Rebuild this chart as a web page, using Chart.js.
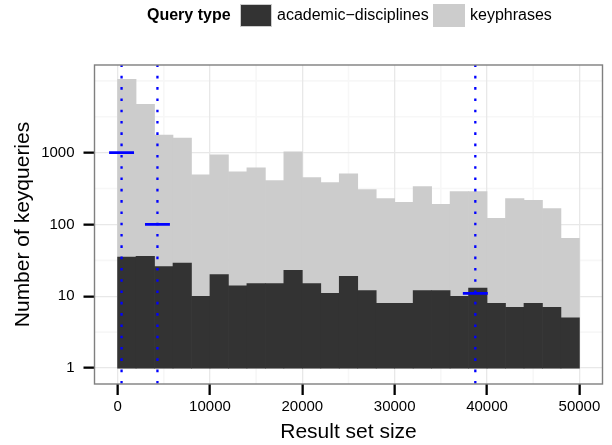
<!DOCTYPE html>
<html lang="en">
<head>
<meta charset="UTF-8">
<title>Number of keyqueries</title>
<style>
  body { margin: 0; background: #fff; }
  #wrap { position: relative; width: 612px; height: 445px; font-family: "Liberation Sans", Arial, sans-serif; color: #000; }
  #grafico { position: absolute; left: 0; top: 0; }
  .leg { position: absolute; top: 5px; font-size: 16px; line-height: 20px; white-space: nowrap; }
  .caixa { position: absolute; top: 4px; width: 32px; height: 23px; border: 1px solid #cccccc; box-sizing: border-box; }
</style>
</head>
<body>
<div id="wrap">
  <canvas id="grafico" width="612" height="445"></canvas>
  <span class="leg" style="left:147px; font-weight:bold;">Query type</span>
  <div class="caixa" style="left:240px; background:#333333;"></div>
  <span class="leg" style="left:277px;">academic−disciplines</span>
  <div class="caixa" style="left:433px; background:#cccccc;"></div>
  <span class="leg" style="left:470px;">keyphrases</span>
</div>

<script src="https://cdn.jsdelivr.net/npm/chart.js"></script>
<script>
// centros dos bins (largura 2000)
const binCenters = [1000, 3000, 5000, 7000, 9000, 11000, 13000, 15000, 17000, 19000, 21000, 23000, 25000,
                     27000, 29000, 31000, 33000, 35000, 37000, 39000, 41000, 43000, 45000, 47000, 49000];
// altura das barras escuras (academic-disciplines)
const academic = [35, 36, 26, 29, 10, 20, 14, 15, 15, 23, 15, 11, 19, 12, 8, 8, 12, 12, 10, 13, 8, 7, 8, 7, 5];
// topo visivel das barras claras (keyphrases, empilhado em escala log)
const keyphrasesTop = [10470, 4720, 1760, 1600, 493, 933, 543, 617, 408, 1026, 449, 383, 509,
                       306, 230, 203, 337, 190, 288, 288, 122, 230, 216, 167, 64];
// linhas azuis pontilhadas e marcas horizontais
const vlineX = [430, 4315, 38730];
const markY = [1000, 100, 11];
const markHalf = 1350;

const xBreaks = [0, 10000, 20000, 30000, 40000, 50000];
const xMinor = [5000, 15000, 25000, 35000, 45000];
const yBreaks = [1, 10, 100, 1000];
const yMinor = [Math.sqrt(10), Math.sqrt(1000), Math.sqrt(100000), Math.sqrt(10000000), 10000];

const topLog = Math.log10(Math.max(...keyphrasesTop));
const yMin = Math.pow(10, -0.05 * topLog);
const yMax = Math.pow(10, 1.05 * topLog);

const fonte = "'Liberation Sans', Arial, sans-serif";

let datasets = [
    {
        label: 'academic-disciplines',
        data: binCenters.map((c, i) => ({x: c, y: [1, academic[i]]})),
        backgroundColor: '#333333',
        grouped: false,
        barPercentage: 1,
        categoryPercentage: 1,
        order: 1
    },
    {
        label: 'keyphrases',
        data: binCenters.map((c, i) => ({x: c, y: [1, keyphrasesTop[i]]})),
        backgroundColor: '#cccccc',
        grouped: false,
        barPercentage: 1,
        categoryPercentage: 1,
        order: 2
    }
];

for (let i = 0; i < vlineX.length; i++) {
    datasets.push({
        type: 'line',
        label: 'marca' + i,
        data: [{x: vlineX[i] - markHalf, y: markY[i]}, {x: vlineX[i] + markHalf, y: markY[i]}],
        borderColor: '#0000ff',
        borderWidth: 2.7,
        pointRadius: 0,
        order: 0
    });
}

// grade menor + fundo
const gradeMenor = {
    id: 'gradeMenor',
    beforeDraw(chart) {
        const {ctx, chartArea: a, scales: {x, y}} = chart;
        ctx.save();
        ctx.fillStyle = '#fff';
        ctx.fillRect(0, 0, chart.width, chart.height);
        ctx.strokeStyle = '#f7f7f7';
        ctx.lineWidth = 1.6;
        ctx.beginPath();
        xMinor.forEach(v => {
            const px = x.getPixelForValue(v);
            ctx.moveTo(px, a.top); ctx.lineTo(px, a.bottom);
        });
        yMinor.forEach(v => {
            const py = y.getPixelForValue(v);
            ctx.moveTo(a.left, py); ctx.lineTo(a.right, py);
        });
        ctx.stroke();
        ctx.restore();
    }
};

// linhas verticais pontilhadas e borda do painel
const linhasAzuis = {
    id: 'linhasAzuis',
    afterDatasetsDraw(chart) {
        const {ctx, chartArea: a, scales: {x}} = chart;
        ctx.save();
        ctx.strokeStyle = '#0000ff';
        ctx.lineWidth = 2.3;
        ctx.setLineDash([2.6, 8.7]);
        vlineX.forEach(v => {
            const px = x.getPixelForValue(v);
            ctx.beginPath();
            ctx.moveTo(px, a.bottom - 0.5);
            ctx.lineTo(px, a.top);
            ctx.stroke();
        });
        ctx.setLineDash([]);
        ctx.strokeStyle = '#7f7f7f';
        ctx.lineWidth = 1.4;
        ctx.strokeRect(a.left, a.top, a.right - a.left, a.bottom - a.top);
        ctx.restore();
    }
};

const ctx = document.getElementById('grafico').getContext('2d');

new Chart(ctx, {
    type: 'bar',
    data: { datasets: datasets },
    options: {
        responsive: false,
        animation: false,
        layout: { padding: { left: 0, right: 9.5, top: 65, bottom: 0 } },
        plugins: {
            legend: { display: false },
            tooltip: { enabled: false }
        },
        scales: {
            x: {
                type: 'linear',
                min: -2500,
                max: 52500,
                offset: false,
                afterBuildTicks: s => { s.ticks = xBreaks.map(v => ({value: v})); },
                afterFit: s => { s.height = 61; },
                grid: { color: '#e8e8e8', lineWidth: 1.3, offset: false, tickColor: '#000', tickWidth: 2.3, tickLength: 11 },
                border: { display: false },
                ticks: {
                    autoSkip: false, maxRotation: 0, padding: 3,
                    color: '#000', font: { family: fonte, size: 15 },
                    callback: v => String(v)
                },
                title: { display: true, text: 'Result set size', color: '#000', font: { family: fonte, size: 21 }, padding: { top: 0, bottom: 0.5 } }
            },
            y: {
                type: 'logarithmic',
                min: yMin,
                max: yMax,
                afterBuildTicks: s => { s.ticks = yBreaks.map(v => ({value: v})); },
                afterFit: s => { s.width = 94.5; },
                grid: { color: '#e8e8e8', lineWidth: 1.3, tickColor: '#000', tickWidth: 2.3, tickLength: 11 },
                border: { display: false },
                ticks: {
                    padding: 9,
                    color: '#000', font: { family: fonte, size: 15 },
                    callback: v => String(v)
                },
                title: { display: true, text: 'Number of keyqueries', color: '#000', font: { family: fonte, size: 21 }, padding: { top: 10.5, bottom: 0 } }
            }
        }
    },
    plugins: [gradeMenor, linhasAzuis]
});
</script>
</body>
</html>
